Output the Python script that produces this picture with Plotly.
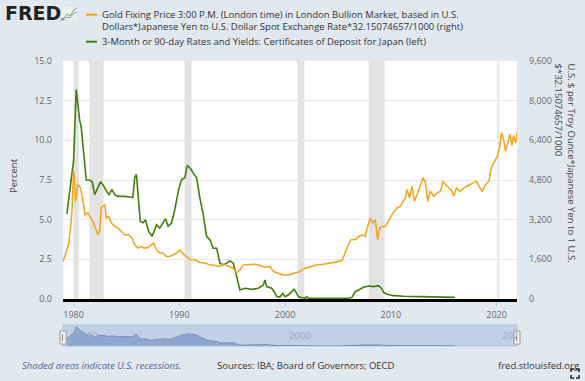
import plotly.graph_objects as go
import pandas as pd

# ---------------- data ----------------
cd_years = [1979.37, 1979.6, 1979.85, 1980.0, 1980.25, 1980.4, 1980.57, 1980.73, 1980.95, 1981.2,
            1981.5, 1981.75, 1982.0, 1982.25, 1982.55, 1982.87, 1983.1, 1983.35, 1983.63, 1983.9,
            1984.2, 1984.83, 1985.6, 1985.78, 1985.94, 1986.1, 1986.3, 1986.57, 1986.8, 1987.1,
            1987.42, 1987.68, 1987.84, 1988.15, 1988.37, 1988.7, 1988.94, 1989.26, 1989.57, 1989.9,
            1990.2, 1990.52, 1990.74, 1991.0, 1991.3, 1991.63, 1991.94, 1992.26, 1992.58, 1992.9,
            1993.2, 1993.53, 1993.84, 1994.15, 1994.47, 1994.8, 1995.1, 1995.42, 1995.73, 1996.2,
            1996.84, 1997.47, 1997.94, 1998.1, 1998.26, 1998.73, 1999.05, 1999.2, 1999.5, 1999.78,
            2000.0, 2000.3, 2000.54, 2000.85, 2001.04, 2001.26, 2001.58, 2001.9, 2002.05, 2002.2,
            2003.0, 2004.0, 2005.0, 2006.0, 2006.32, 2006.63, 2006.95, 2007.42, 2007.9, 2008.37,
            2008.85, 2009.1, 2009.32, 2009.64, 2010.27, 2011.2, 2012.8, 2014.38, 2016.05]
cd_rate = [5.36, 6.58, 8.16, 8.7, 13.2, 12.3, 11.3, 10.8, 9.1, 7.5,
           7.5, 7.4, 6.58, 7.0, 7.4, 7.1, 6.8, 6.58, 6.9, 6.58,
           6.47, 6.47, 6.4, 7.65, 7.85, 6.58, 4.9, 4.8, 5.0, 4.26,
           3.95, 4.37, 4.68, 4.47, 4.68, 5.06, 4.58, 4.79, 5.63, 6.79,
           7.53, 7.64, 8.42, 8.27, 7.96, 7.64, 6.37, 5.32, 3.95, 3.73,
           3.2, 3.2, 2.26, 2.15, 2.26, 2.4, 2.26, 1.31, 0.57, 0.68,
           0.61, 0.68, 0.89, 1.2, 0.78, 0.68, 0.38, 0.15, 0.12, 0.36,
           0.15, 0.25, 0.42, 0.61, 0.42, 0.15, 0.08, 0.06, 0.15, 0.05,
           0.04, 0.03, 0.03, 0.05, 0.1, 0.46, 0.57, 0.74, 0.82, 0.78,
           0.84, 0.68, 0.42, 0.3, 0.21, 0.17, 0.15, 0.13, 0.1]

gold_years = [1979.0, 1979.3, 1979.53, 1979.72, 1979.85, 1980.0, 1980.1, 1980.16, 1980.25, 1980.4,
              1980.57, 1980.73, 1980.95, 1981.1, 1981.36, 1981.58, 1981.83, 1982.05, 1982.3, 1982.46,
              1982.62, 1982.78, 1982.94, 1983.1, 1983.32, 1983.57, 1983.9, 1984.2, 1984.52, 1984.83,
              1985.2, 1985.53, 1985.78, 1986.1, 1986.35, 1986.66, 1987.04, 1987.36, 1987.55, 1987.84,
              1988.15, 1988.46, 1988.78, 1989.1, 1989.41, 1989.73, 1990.05, 1990.36, 1990.68, 1991.0,
              1991.47, 1991.94, 1992.42, 1992.9, 1993.36, 1993.84, 1994.15, 1994.63, 1995.1, 1995.42,
              1995.73, 1996.05, 1996.52, 1997.16, 1997.63, 1998.1, 1998.58, 1998.9, 1999.37, 1999.84,
              2000.3, 2000.79, 2001.42, 2001.9, 2002.37, 2003.0, 2003.63, 2004.27, 2004.9, 2005.37,
              2005.6, 2005.9, 2006.22, 2006.63, 2006.95, 2007.36, 2007.58, 2007.8, 2008.06, 2008.31,
              2008.53, 2008.75, 2008.94, 2009.16, 2009.48, 2009.8, 2010.11, 2010.33, 2010.58, 2010.9,
              2011.15, 2011.37, 2011.53, 2011.75, 2012.0, 2012.23, 2012.48, 2012.73, 2013.05, 2013.27,
              2013.49, 2013.74, 2014.06, 2014.38, 2014.69, 2014.94, 2015.16, 2015.48, 2015.8, 2015.95,
              2016.2, 2016.52, 2016.9, 2017.2, 2017.53, 2017.85, 2018.1, 2018.32, 2018.64, 2018.96,
              2019.27, 2019.5, 2019.75, 2020.07, 2020.28, 2020.47, 2020.69, 2020.85, 2021.06, 2021.25,
              2021.45, 2021.6, 2021.8, 2021.95]
gold_price = [1511, 1916, 2187, 2863, 3536, 5156, 4888, 3941, 4078, 4617,
              4548, 4346, 3807, 3402, 3471, 3268, 3131, 2863, 2592, 2726,
              3673, 3738, 3807, 3268, 3333, 3066, 2928, 2863, 2726, 2592,
              2592, 2458, 2187, 2053, 2118, 2053, 2078, 2187, 2256, 1985,
              1851, 1851, 1713, 1713, 1782, 1851, 1985, 1810, 1713, 1580,
              1580, 1486, 1446, 1377, 1349, 1308, 1405, 1337, 1243, 1041,
              1175, 1377, 1377, 1405, 1349, 1284, 1308, 1106, 1041, 972,
              972, 1041, 1106, 1243, 1308, 1377, 1405, 1446, 1486, 1539,
              1782, 2118, 2390, 2390, 2523, 2592, 2523, 2928, 3268, 3066,
              3200, 2390, 2863, 2928, 2928, 3200, 3402, 3536, 3673, 3738,
              3941, 4078, 4415, 4078, 4548, 3941, 4212, 4483, 4888, 4686,
              3941, 4346, 4143, 4281, 4346, 4751, 4617, 4483, 4346, 4143,
              4483, 4346, 4483, 4548, 4617, 4686, 4751, 4548, 4346, 4617,
              4751, 5294, 5496, 5763, 6103, 6711, 6371, 5966, 6306, 6642,
              6200, 6600, 6300, 6750]

recession_start = ["1980-01-01", "1981-07-01", "1990-07-01", "2001-03-01", "2007-12-01", "2020-02-01"]
recession_end = ["1980-07-01", "1982-11-01", "1991-03-01", "2001-11-01", "2009-06-01", "2020-04-01"]

x_tick_years = [1980, 1990, 2000, 2010, 2020]
left_ticks = [0, 2.5, 5, 7.5, 10, 12.5, 15]
right_ticks = [0, 1600, 3200, 4800, 6400, 8000, 9600]
nav_labels = ["1980", "2000", "202"]
nav_label_years = [1980.0, 2000.2, 2020.3]

gold_name = "Gold Fixing Price 3:00 P.M. (London time) in London Bullion Market, based in U.S."
gold_name2 = "Dollars*Japanese Yen to U.S. Dollar Spot Exchange Rate*32.15074657/1000 (right)"
cd_name = "3-Month or 90-day Rates and Yields: Certificates of Deposit for Japan (left)"


def to_date(y):
    yr = int(y)
    frac = y - yr
    return pd.Timestamp(year=yr, month=1, day=1) + pd.to_timedelta(frac * 365.25, unit="D")


cd_dates = [to_date(v) for v in cd_years]
gold_dates = [to_date(v) for v in gold_years]

# ---------------- geometry helpers ----------------
W, H = 585, 381
PL, PR, PT, PB = 63, 517, 61, 348


def px(x):
    return (x - PL) / (PR - PL)


def py(y):
    return (PB - y) / (PB - PT)


ORANGE = "#f6a31c"
GREEN = "#417f0c"
BG = "#e1e9f0"
TICK = "#686868"
FONT = "Open Sans"

fig = go.Figure()

fig.add_trace(go.Scatter(x=gold_dates, y=gold_price, mode="lines", yaxis="y2",
                         line=dict(color=ORANGE, width=1.5), showlegend=False, hoverinfo="skip"))
fig.add_trace(go.Scatter(x=cd_dates, y=cd_rate, mode="lines", yaxis="y",
                         line=dict(color=GREEN, width=1.6), showlegend=False, hoverinfo="skip"))
# navigator
fig.add_trace(go.Scatter(x=cd_dates, y=cd_rate, mode="lines", xaxis="x2", yaxis="y3",
                         fill="tozeroy", fillcolor="#8ea7d0",
                         line=dict(color="#7390c0", width=1), showlegend=False, hoverinfo="skip"))

shapes = []
for s, e in zip(recession_start, recession_end):
    shapes.append(dict(type="rect", xref="x", yref="y domain", x0=s, x1=e, y0=0, y1=1,
                       fillcolor="#e3e3e3", line=dict(width=0), layer="below"))
# navigator background
shapes.append(dict(type="rect", xref="paper", yref="paper", x0=px(63), x1=px(517), y0=py(346), y1=py(325),
                   fillcolor="#c2d0e6", line=dict(color="#b4c3dc", width=1), layer="below"))
# navigator handles
for hx in (63, 517):
    shapes.append(dict(type="rect", xref="paper", yref="paper", x0=px(hx - 3), x1=px(hx + 3),
                       y0=py(344), y1=py(331), fillcolor="#f5f5f5",
                       line=dict(color="#999999", width=1), layer="above"))
    shapes.append(dict(type="line", xref="paper", yref="paper", x0=px(hx - 0.5), x1=px(hx - 0.5),
                       y0=py(341), y1=py(334), line=dict(color="#888888", width=1)))
# legend swatches
shapes.append(dict(type="line", xref="paper", yref="paper", x0=px(86), x1=px(97), y0=py(14.7), y1=py(14.7),
                   line=dict(color=ORANGE, width=2)))
shapes.append(dict(type="line", xref="paper", yref="paper", x0=px(86), x1=px(97), y0=py(41.7), y1=py(41.7),
                   line=dict(color=GREEN, width=2)))
# FRED icon
shapes.append(dict(type="rect", xref="paper", yref="paper", x0=px(62), x1=px(78), y0=py(21), y1=py(6),
                   fillcolor="#eef0f2", line=dict(color="#d8dde3", width=0.5)))
shapes.append(dict(type="path", xref="paper", yref="paper",
                   path="M {},{} L {},{} L {},{} L {},{} L {},{}".format(
                       px(63), py(19), px(67), py(14), px(70), py(16), px(74), py(10), px(77), py(8)),
                   line=dict(color="#6aa84f", width=1)))
shapes.append(dict(type="path", xref="paper", yref="paper",
                   path="M {},{} L {},{} L {},{} L {},{} L {},{}".format(
                       px(63), py(20), px(67), py(17), px(70), py(18), px(74), py(13), px(77), py(12)),
                   line=dict(color="#7f9fc8", width=1)))
# fullscreen icon
for (cx, cy, dx, dy) in [(571, 369, 1, 1), (579, 369, -1, 1), (571, 378, 1, -1), (579, 378, -1, -1)]:
    shapes.append(dict(type="path", xref="paper", yref="paper",
                       path="M {},{} L {},{} L {},{}".format(px(cx + 3 * dx), py(cy), px(cx), py(cy), px(cx), py(cy + 3 * dy)),
                       line=dict(color="#222222", width=1.5)))

ann = []
ann.append(dict(text="<b>FRED</b>", x=px(3), y=py(13.5), xref="paper", yref="paper", xanchor="left",
                yanchor="middle", showarrow=False, font=dict(family="DejaVu Sans", size=19, color="#222222")))
ann.append(dict(text="®", x=px(58), y=py(19), xref="paper", yref="paper", xanchor="left",
                yanchor="middle", showarrow=False, font=dict(family="DejaVu Sans", size=4, color="#444")))
for txt, yy in [(gold_name, 14.7), (gold_name2, 26.9), (cd_name, 41.7)]:
    ann.append(dict(text=txt, x=px(100), y=py(yy), xref="paper", yref="paper", xanchor="left",
                    yanchor="middle", showarrow=False, font=dict(family=FONT, size=9.5, color="#333333")))
ann.append(dict(text="Percent", x=px(13), y=py(176), xref="paper", yref="paper", textangle=-90,
                xanchor="center", yanchor="middle", showarrow=False,
                font=dict(family=FONT, size=9.5, color="#444444")))
ann.append(dict(text="U.S. $ per Troy Ounce*Japanese Yen to 1 U.S.<br>$*32.15074657/1000",
                x=px(565), y=py(61), xref="paper", yref="paper", textangle=90, align="left",
                xanchor="center", yanchor="top", showarrow=False,
                font=dict(family=FONT, size=9.5, color="#444444")))
for lab, yr in zip(nav_labels, nav_label_years):
    ann.append(dict(text=lab, x=to_date(yr), y=0.5, xref="x2", yref="y3 domain", xanchor="left",
                    yanchor="middle", showarrow=False, font=dict(family=FONT, size=9.5, color="#97a8c6")))
ann.append(dict(text="<i>Shaded areas indicate U.S. recessions.</i>", x=px(20), y=py(365.5), xref="paper",
                yref="paper", xanchor="left", yanchor="middle", showarrow=False,
                font=dict(family=FONT, size=9.5, color="#4f6590")))
ann.append(dict(text="Sources: IBA; Board of Governors; OECD", x=px(215), y=py(365.5), xref="paper",
                yref="paper", xanchor="left", yanchor="middle", showarrow=False,
                font=dict(family=FONT, size=9.5, color="#333333")))
ann.append(dict(text="fred.stlouisfed.org", x=px(496), y=py(365.5), xref="paper",
                yref="paper", xanchor="left", yanchor="middle", showarrow=False,
                font=dict(family=FONT, size=9.5, color="#333333")))

xr = ["1979-01-01", "2021-12-05"]
fig.update_layout(
    width=W, height=H,
    paper_bgcolor=BG, plot_bgcolor="white",
    margin=dict(l=PL, r=W - PR, t=PT, b=H - PB, pad=0),
    showlegend=False,
    shapes=shapes, annotations=ann,
    font=dict(family=FONT, size=9, color=TICK),
    xaxis=dict(type="date", range=xr, domain=[0, 1], anchor="y",
               tickvals=[f"{y}-01-01" for y in x_tick_years], ticktext=[str(y) for y in x_tick_years],
               showgrid=False, showline=True, linecolor="#000000", linewidth=2.5,
               ticks="outside", ticklen=5, tickcolor="#c3cfdd", tickwidth=1,
               tickfont=dict(family=FONT, size=9, color=TICK), zeroline=False),
    yaxis=dict(range=[0, 15], domain=[py(299), 1], anchor="x",
               tickvals=left_ticks, ticktext=[f"{v:.1f}" for v in left_ticks],
               showgrid=True, gridcolor="#e8e8e8", gridwidth=1, zeroline=False,
               ticks="", ticklabelstandoff=10, tickfont=dict(family=FONT, size=9, color=TICK)),
    yaxis2=dict(range=[0, 9600], overlaying="y", side="right", anchor="x",
                tickvals=right_ticks, ticktext=[f"{v:,}" for v in right_ticks],
                showgrid=False, zeroline=False, ticks="", ticklabelstandoff=11,
                tickfont=dict(family=FONT, size=9, color=TICK)),
    xaxis2=dict(type="date", range=xr, domain=[0, 1], anchor="y3", visible=False),
    yaxis3=dict(range=[0, 14.5], domain=[py(346), py(325)], anchor="x2", visible=False),
)

fig.write_html("out.html", config={"displayModeBar": False},
               post_script="document.body.style.margin='0px';")
